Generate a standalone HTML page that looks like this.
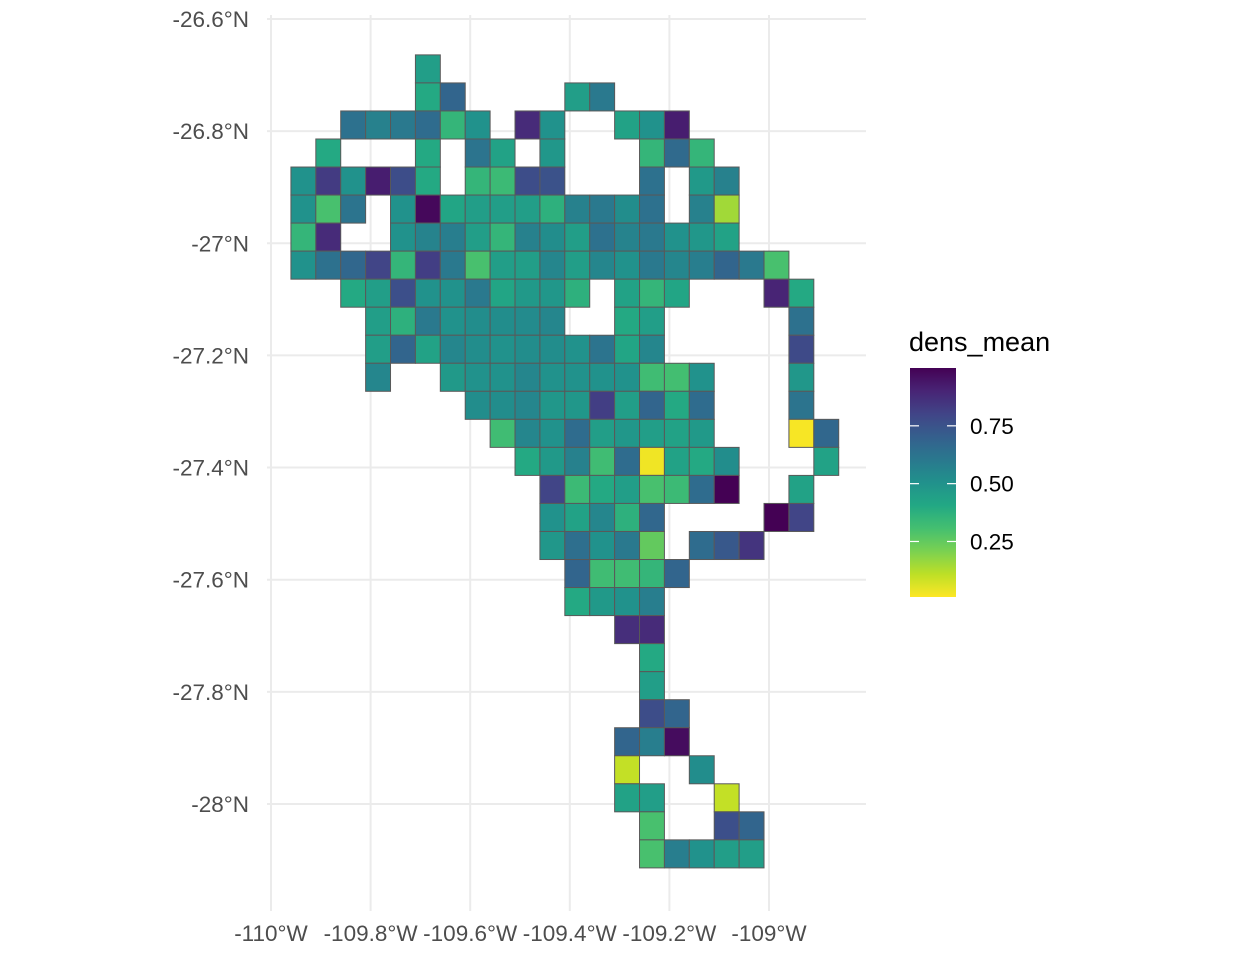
<!DOCTYPE html>
<html><head><meta charset="utf-8"><style>
html,body{margin:0;padding:0;background:#fff;}
svg{display:block;font-family:"Liberation Sans",Arial,sans-serif;}
</style></head><body>
<svg id="chart" width="1248" height="960" viewBox="0 0 1248 960">
<g id="grid"></g>
<g id="cells"></g>
<g id="yaxis"></g>
<g id="xaxis"></g>
<g id="legend">
<defs><linearGradient id="vg" x1="0" y1="1" x2="0" y2="0"></linearGradient></defs>
<text x="909" y="351" font-size="27" fill="#000">dens_mean</text>
<rect x="910" y="368" width="46" height="229" fill="url(#vg)"/>
</g>
</svg>
<script>
// tick data
const xTicks = [-110, -109.8, -109.6, -109.4, -109.2, -109];
const xTickLabels = ["-110°W", "-109.8°W", "-109.6°W", "-109.4°W", "-109.2°W", "-109°W"];
const yTicks = [-26.6, -26.8, -27, -27.2, -27.4, -27.6, -27.8, -28];
const yTickLabels = ["-26.6°N", "-26.8°N", "-27°N", "-27.2°N", "-27.4°N", "-27.6°N", "-27.8°N", "-28°N"];
const legendTicks = [0.25, 0.5, 0.75];
const legendTickLabels = ["0.25", "0.50", "0.75"];
// grid geometry (degrees)
const lonOrigin = -109.96;
const latOrigin = -26.664;
const cellDeg = 0.05;
// per-row cells: [column index, dens_mean]
const rowCells = [
 [[5,.45]],
 [[5,.40],[6,.68],[11,.45],[12,.60]],
 [[2,.63],[3,.57],[4,.60],[5,.65],[6,.35],[7,.50],[9,.88],[10,.50],[13,.43],[14,.50],[15,.92]],
 [[1,.40],[5,.40],[7,.62],[8,.43],[10,.48],[14,.35],[15,.66],[16,.35]],
 [[0,.50],[1,.83],[2,.50],[3,.92],[4,.77],[5,.40],[7,.35],[8,.33],[9,.77],[10,.75],[14,.63],[16,.47],[17,.57]],
 [[0,.50],[1,.30],[2,.62],[4,.50],[5,.98],[6,.42],[7,.45],[8,.45],[9,.45],[10,.37],[11,.57],[12,.60],[13,.52],[14,.63],[16,.57],[17,.15]],
 [[0,.35],[1,.88],[4,.50],[5,.56],[6,.58],[7,.45],[8,.35],[9,.57],[10,.52],[11,.45],[12,.63],[13,.56],[14,.60],[15,.50],[16,.48],[17,.43]],
 [[0,.50],[1,.63],[2,.67],[3,.80],[4,.35],[5,.82],[6,.60],[7,.30],[8,.45],[9,.45],[10,.55],[11,.45],[12,.55],[13,.50],[14,.60],[15,.55],[16,.58],[17,.68],[18,.60],[19,.30]],
 [[2,.40],[3,.45],[4,.76],[5,.50],[6,.50],[7,.60],[8,.42],[9,.47],[10,.48],[11,.37],[13,.43],[14,.35],[15,.42],[19,.90],[20,.40]],
 [[3,.45],[4,.37],[5,.60],[6,.50],[7,.52],[8,.52],[9,.53],[10,.55],[13,.40],[14,.45],[20,.63]],
 [[3,.45],[4,.68],[5,.43],[6,.55],[7,.52],[8,.50],[9,.52],[10,.52],[11,.50],[12,.62],[13,.42],[14,.55],[20,.78]],
 [[3,.55],[6,.47],[7,.50],[8,.50],[9,.55],[10,.50],[11,.50],[12,.50],[13,.50],[14,.32],[15,.31],[16,.50],[20,.48]],
 [[7,.52],[8,.52],[9,.55],[10,.48],[11,.48],[12,.82],[13,.45],[14,.68],[15,.40],[16,.65],[20,.62]],
 [[8,.32],[9,.55],[10,.50],[11,.65],[12,.45],[13,.48],[14,.45],[15,.43],[16,.47],[20,.02],[21,.67]],
 [[9,.40],[10,.47],[11,.57],[12,.32],[13,.65],[14,.03],[15,.43],[16,.40],[17,.52],[21,.43]],
 [[10,.80],[11,.33],[12,.40],[13,.45],[14,.30],[15,.33],[16,.65],[17,1.0],[20,.43]],
 [[10,.50],[11,.43],[12,.55],[13,.37],[14,.67],[19,1.0],[20,.80]],
 [[10,.48],[11,.64],[12,.50],[13,.60],[14,.25],[16,.65],[17,.73],[18,.85]],
 [[11,.68],[12,.32],[13,.32],[14,.35],[15,.68]],
 [[11,.40],[12,.47],[13,.50],[14,.58]],
 [[13,.87],[14,.88]],
 [[14,.40]],
 [[14,.45]],
 [[14,.77],[15,.68]],
 [[13,.68],[14,.58],[15,.97]],
 [[13,.10],[16,.52]],
 [[13,.43],[14,.45],[17,.10]],
 [[14,.30],[17,.76],[18,.68]],
 [[14,.30],[15,.58],[16,.50],[17,.45],[18,.45]]
];
const vMin = 0.01, vMax = 1.0;

const NS = "http://www.w3.org/2000/svg";
function xScale(lon){ return 271 + (lon + 110) * 498; }
function yScale(lat){ return 19 + (-26.6 - lat) * 560.7; }
const vir = ["#440154","#482475","#414487","#355f8d","#2a788e","#21918c","#22a884","#44bf70","#7ad151","#bddf26","#fde725"];
function hex(h){ return [parseInt(h.slice(1,3),16),parseInt(h.slice(3,5),16),parseInt(h.slice(5,7),16)]; }
function colorOf(v){
  let t = (v - vMin) / (vMax - vMin); t = Math.max(0, Math.min(1, t));
  const p = (1 - t) * (vir.length - 1); const i = Math.min(vir.length - 2, Math.floor(p)); const f = p - i;
  const a = hex(vir[i]), b = hex(vir[i+1]);
  return "rgb(" + a.map((x,k)=>Math.round(x + (b[k]-x)*f)).join(",") + ")";
}
function mk(tag, attrs, parent){ const e = document.createElementNS(NS, tag); for (const k in attrs) e.setAttribute(k, attrs[k]); parent.appendChild(e); return e; }

const grid = document.getElementById("grid");
xTicks.forEach(function(t){
  const l = mk("line", {x1: xScale(t), x2: xScale(t), y1: 15, y2: 911, stroke: "#ebebeb", "stroke-width": 2}, grid);
  
  
});
yTicks.forEach(function(t){
  const l = mk("line", {x1: 267, x2: 866, y1: yScale(t), y2: yScale(t), stroke: "#ebebeb", "stroke-width": 2}, grid);
  
  
});

const cells = document.getElementById("cells");
rowCells.forEach(function(row, r){
  row.forEach(function(cv){
    const lon0 = lonOrigin + cellDeg * cv[0], lat0 = latOrigin - cellDeg * r;
    const x0 = xScale(lon0), x1 = xScale(lon0 + cellDeg), y0 = yScale(lat0), y1 = yScale(lat0 - cellDeg);
    const c = mk("rect", {x: x0, y: y0, width: x1 - x0, height: y1 - y0, fill: colorOf(cv[1]), stroke: "#595959", "stroke-width": 1}, cells);
    
    
  });
});

const ya = document.getElementById("yaxis");
yTicks.forEach(function(t, i){
  const tx = mk("text", {x: 249, y: yScale(t) + 8, "text-anchor": "end", "font-size": 22.5, fill: "#4d4d4d"}, ya);
  tx.textContent = yTickLabels[i];
  
  
});
const xa = document.getElementById("xaxis");
xTicks.forEach(function(t, i){
  const tx = mk("text", {x: xScale(t), y: 941, "text-anchor": "middle", "font-size": 22.5, fill: "#4d4d4d"}, xa);
  tx.textContent = xTickLabels[i];
  
  
});

const grad = document.getElementById("vg");
for (let k = 0; k <= 20; k++){
  const v = vMin + (vMax - vMin) * k / 20;
  mk("stop", {offset: (k/20*100) + "%", "stop-color": colorOf(v)}, grad);
}
const lg = document.getElementById("legend");
function legY(v){ return 597 - (v - vMin) / (vMax - vMin) * 229; }
legendTicks.forEach(function(v, i){
  const y = legY(v);
  const a = mk("line", {x1: 910, x2: 919, y1: y, y2: y, stroke: "#fff", "stroke-width": 1.2}, lg);
  
  
  const b = mk("line", {x1: 947, x2: 956, y1: y, y2: y, stroke: "#fff", "stroke-width": 1.2}, lg);
  
  
  const tx = mk("text", {x: 970, y: y + 8, "font-size": 22.5, fill: "#000"}, lg);
  tx.textContent = legendTickLabels[i];
  
  
});
</script>
</body></html>
